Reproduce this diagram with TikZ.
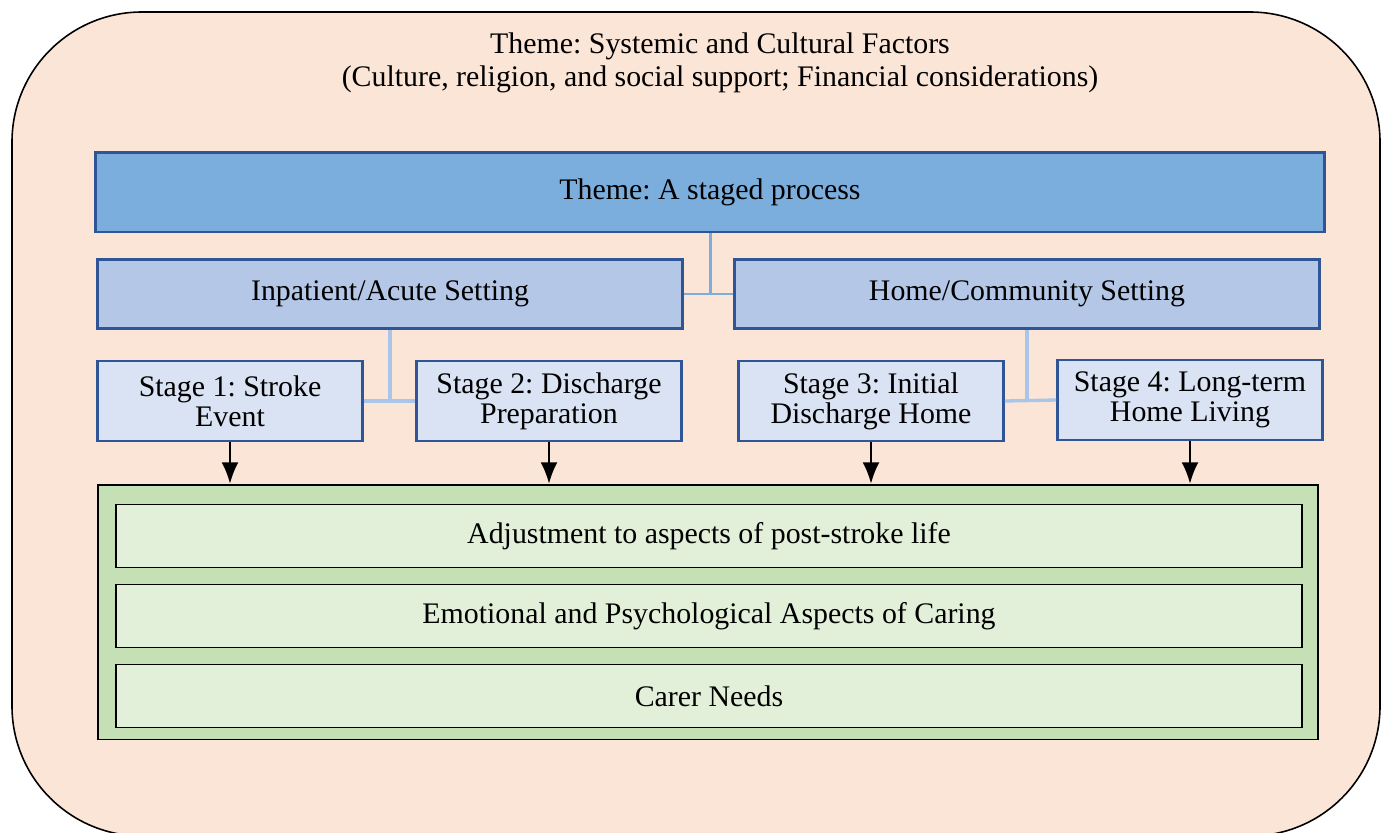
\documentclass[tikz,border=0pt]{standalone}
\usepackage{fontspec}
\setmainfont{Liberation Serif}
\frenchspacing
\usetikzlibrary{%
  arrows.meta,%
  calc%
}
\definecolor{peach}{HTML}{FBE5D6}
\definecolor{themeblue}{HTML}{7BAEDD}
\definecolor{setblue}{HTML}{B4C7E7}
\definecolor{stageblue}{HTML}{DAE3F3}
\definecolor{edgeblue}{HTML}{2F5597}
\definecolor{linkblue}{HTML}{7BAEDD}
\definecolor{linklight}{HTML}{A9C5E9}
\definecolor{greenout}{HTML}{C5E0B4}
\definecolor{greenin}{HTML}{E2F0D9}
\tikzset{>={Latex[length=12pt,width=9.5pt]},%
  bigtext/.style={font=\fontsize{17}{18.7}\selectfont},
  themebox/.style={draw=edgeblue,fill=themeblue,line width=1.7pt,
    minimum width=24.6cm,minimum height=1.6cm,bigtext},
  settingbox/.style={draw=edgeblue,fill=setblue,line width=1.7pt,
    minimum width=11.7cm,minimum height=1.38cm,bigtext},
  stagebox/.style={draw=edgeblue,fill=stageblue,line width=1.6pt,
    minimum width=5.3cm,minimum height=1.6cm,align=center,inner sep=2pt,
    font=\fontsize{17}{17}\selectfont},
  needbox/.style={draw=black,fill=greenin,line width=1.1pt,
    minimum width=23.74cm,minimum height=1.26cm,bigtext},
  link/.style={linkblue,line width=1.7pt},
  linklt/.style={linklight,line width=1.9pt}}

\begin{document}
\begin{tikzpicture}[x=0.02cm,y=-0.02cm]
    \useasboundingbox (0,0) rectangle (1382,832);
    \draw[fill=peach,line width=0.9pt,rounded corners=2.6cm] (12,12) rectangle (1380,836);
    \node[bigtext,align=center] (title) at (720,63) {Theme: Systemic and Cultural Factors\\
      (Culture, religion, and social support; Financial considerations)};
    \node[themebox] (theme) at (710,192) {Theme: A staged process};
    \node[settingbox] (inpat) at (390,294) {Inpatient/Acute Setting};
    \node[settingbox] (home) at (1027,294) {Home/Community Setting};
    \node[stagebox] (s1) at (230,401) {Stage 1: Stroke\\Event};
    \node[stagebox] (s2) at (549,401) {Stage 2: Discharge\\Preparation};
    \node[stagebox] (s3) at (871,401) {Stage 3: Initial\\Discharge Home};
    \node[stagebox] (s4) at (1190,400) {Stage 4: Long-term\\Home Living};
    \node[draw=black,fill=greenout,line width=1.1pt,minimum width=24.4cm,
      minimum height=5.1cm] (needs) at (708,612) {};
    \node[needbox] (n1) at (709,536) {Adjustment to aspects of post-stroke life};
    \node[needbox] (n2) at (709,616) {Emotional and Psychological Aspects of Caring};
    \node[needbox] (n3) at (709,696) {Carer Needs};
    \draw[link] (theme.south) -- (theme.south |- inpat.east);
    \draw[link] (inpat.east) -- (home.west);
    \draw[linklt] (inpat.south) -- (inpat.south |- s1.east);
    \draw[linklt] (s1.east) -- (s2.west);
    \draw[linklt] (home.south) -- (home.south |- s3.east);
    \draw[linklt] (s3.east) -- (s4.west);
    \foreach \s in {s1,s2,s3,s4} {\draw[->,line width=0.9pt] (\s.south) --
      (\s.south |- needs.north);};
\end{tikzpicture}
\end{document}
